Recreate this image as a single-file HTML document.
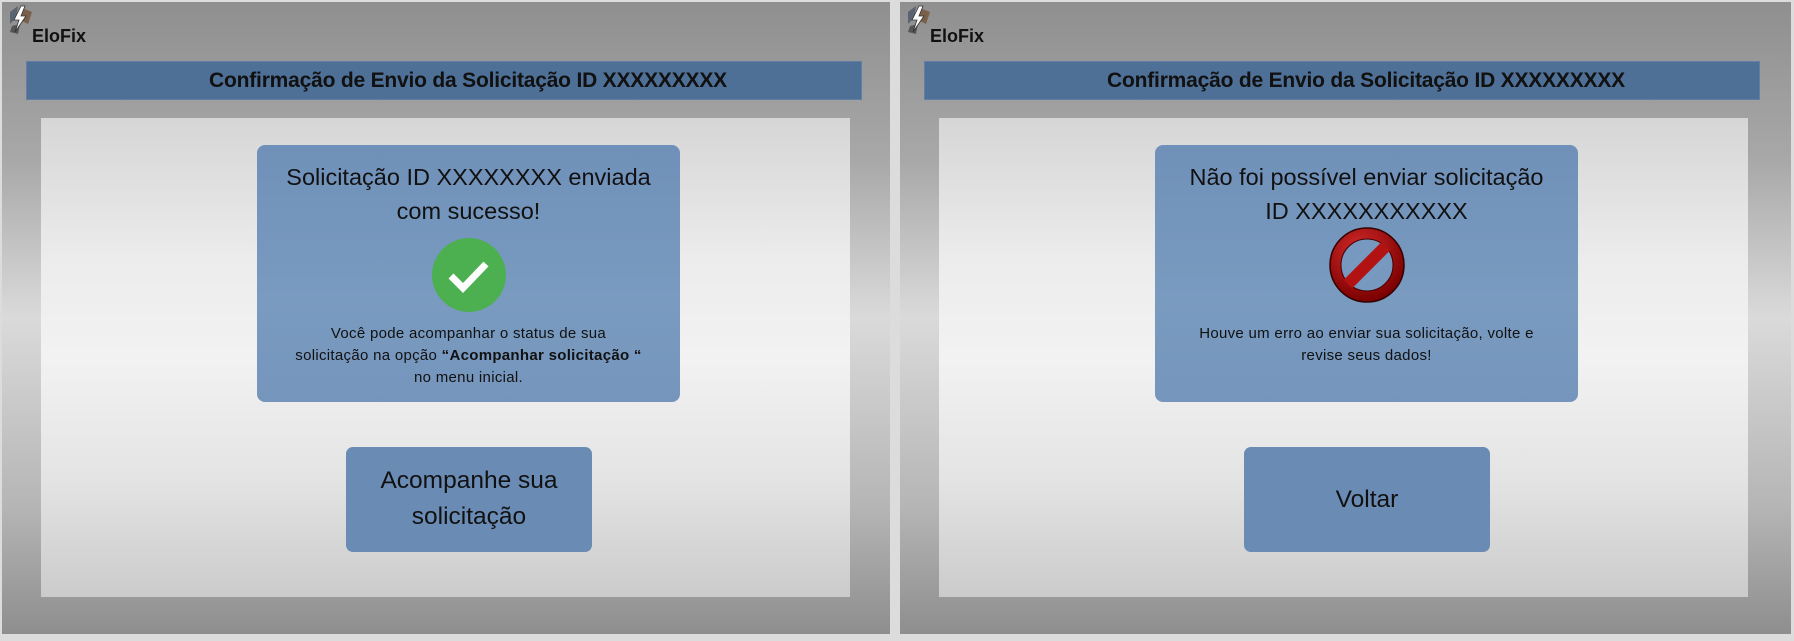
<!DOCTYPE html>
<html><head><meta charset="utf-8"><style>
*{margin:0;padding:0;box-sizing:border-box}
body{width:1794px;height:641px;background:#dcdcdc;position:relative;overflow:hidden;font-family:"Liberation Sans",sans-serif}
.p{position:absolute;top:2px;width:888px;height:632px;background:linear-gradient(#8f8f8f 0%,#a8a8a8 25%,#dadada 50%,#b5b5b5 80%,#8e8e8e 100%)}
.logo{position:absolute;left:30px;top:24px;font-weight:bold;font-size:18px;color:#111}
.ic{position:absolute;left:4px;top:2px;width:28px;height:30px}
.hd{position:absolute;left:24px;top:59px;width:836px;height:39px;background:#4e6f96;border:1px solid #5f7fa5;text-align:center;line-height:38px;font-weight:bold;font-size:21px;color:#111;letter-spacing:-0.2px;padding-left:48px}
.in{position:absolute;left:39px;top:116px;width:809px;height:479px;background:linear-gradient(#d6d6d6 0%,#ececec 30%,#f2f2f2 50%,#e4e4e4 75%,#cbcbcb 100%)}
.card{position:absolute;left:255px;top:143px;width:423px;height:257px;background:linear-gradient(#6f90b8,#7a9bc0 60%,#7595bc);border-radius:8px;text-align:center;color:#111}
.t1{position:absolute;left:-10px;right:-10px;top:15px;font-size:23.5px;line-height:34px}
.t2{position:absolute;left:-10px;right:-10px;font-size:15px;letter-spacing:0.3px;line-height:22px}
.btn{position:absolute;left:344px;top:445px;width:246px;height:105px;background:#6a8bb3;border-radius:7px;text-align:center;color:#111;font-size:24.5px;line-height:36px}
</style></head><body>

<div class="p" style="left:2px">
  <svg class="ic" viewBox="0 0 28 30"><polygon points="4,8 12,2 10,14 4,20" fill="#5a6470"/><polygon points="16,4 26,8 22,20 14,16" fill="#7a6048"/><polygon points="6,22 14,20 12,30 4,28" fill="#555"/><polygon points="15,2 8,16 13,16 9,28 20,12 15,12 19,2" fill="#fff" stroke="#333" stroke-width="0.8"/></svg>
  <div class="logo">EloFix</div>
  <div class="hd">Confirmação de Envio da Solicitação ID XXXXXXXXX</div>
  <div class="in"></div>
  <div class="card">
    <div class="t1">Solicitação ID XXXXXXXX enviada<br>com sucesso!</div>
    <svg style="position:absolute;left:174px;top:92px" width="76" height="76" viewBox="0 0 76 76"><circle cx="38" cy="38" r="37" fill="#4caf50"/><polyline points="20,39 32,51 55,27" fill="none" stroke="#fff" stroke-width="7"/></svg>
    <div class="t2" style="top:178px">Você pode acompanhar o status de sua<br>solicitação na opção <b>“Acompanhar solicitação “</b><br>no menu inicial.</div>
  </div>
  <div class="btn" style="padding-top:16px">Acompanhe sua<br>solicitação</div>
</div>

<div class="p" style="left:900px;width:891px">
  <svg class="ic" viewBox="0 0 28 30"><polygon points="4,8 12,2 10,14 4,20" fill="#5a6470"/><polygon points="16,4 26,8 22,20 14,16" fill="#7a6048"/><polygon points="6,22 14,20 12,30 4,28" fill="#555"/><polygon points="15,2 8,16 13,16 9,28 20,12 15,12 19,2" fill="#fff" stroke="#333" stroke-width="0.8"/></svg>
  <div class="logo">EloFix</div>
  <div class="hd">Confirmação de Envio da Solicitação ID XXXXXXXXX</div>
  <div class="in"></div>
  <div class="card">
    <div class="t1">Não foi possível enviar solicitação<br>ID XXXXXXXXXXX</div>
    <svg style="position:absolute;left:173px;top:81px" width="78" height="78" viewBox="0 0 78 78"><defs><radialGradient id="g" cx="40%" cy="30%" r="70%"><stop offset="0" stop-color="#d42a2a"/><stop offset="1" stop-color="#7a0000"/></radialGradient></defs><circle cx="39" cy="39" r="37" fill="url(#g)" stroke="#300" stroke-width="1.5"/><circle cx="39" cy="39" r="26" fill="#7798bf" stroke="#400" stroke-width="1"/><line x1="20" y1="58" x2="58" y2="20" stroke="#b31212" stroke-width="12"/></svg>
    <div class="t2" style="top:178px">Houve um erro ao enviar sua solicitação, volte e<br>revise seus dados!</div>
  </div>
  <div class="btn" style="line-height:105px">Voltar</div>
</div>

</body></html>
